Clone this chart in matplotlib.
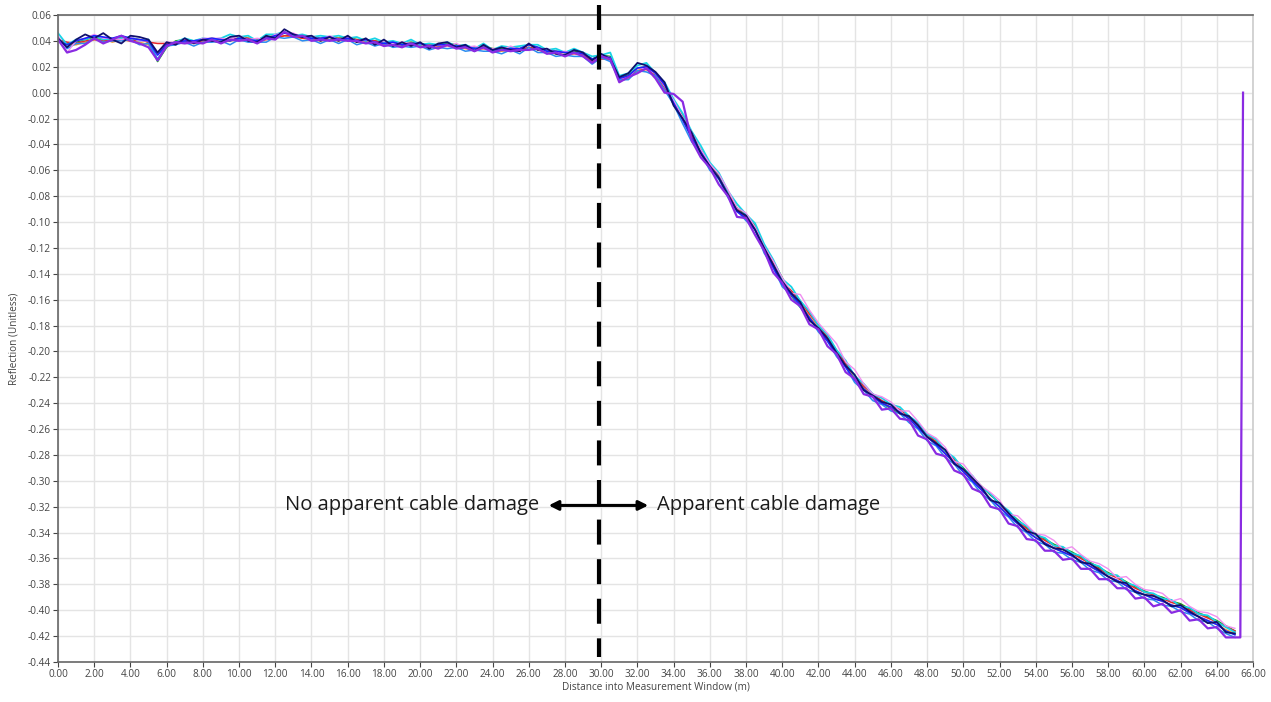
import numpy as np
import matplotlib
matplotlib.use('Agg')
import matplotlib.pyplot as plt
import matplotlib.ticker as tck

# reflection traces, read every 0.5 m from 0 to 65 m, in thousandths
green = [41,38,39,41,43,40,41,43,42,41,
         39,24,35,40,41,40,41,42,41,40,
         43,42,41,43,44,46,45,44,43,42,
         43,42,43,41,41,40,39,39,38,39,
         38,37,37,38,37,36,35,36,34,34,
         35,34,37,35,33,32,31,32,31,26,
         29,28,11,14,19,20,15,6,-6,-18,
         -32,-44,-55,-64,-77,-89,-94,-103,-118,-130,
         -143,-157,-166,-175,-183,-191,-201,-211,-221,-229,
         -235,-240,-244,-248,-251,-257,-264,-270,-277,-283,
         -290,-297,-304,-311,-317,-324,-330,-336,-341,-345,
         -349,-352,-355,-359,-363,-367,-371,-374,-378,-382,
         -385,-388,-390,-393,-395,-399,-402,-405,-408,-412,
         -416]
orange = [40,37,37,39,41,42,39,41,40,39,
          37,30,37,38,39,38,39,40,39,40,
          41,40,39,41,42,44,43,42,41,40,
          41,40,41,39,39,38,37,37,36,37,
          36,35,35,36,35,34,33,34,32,32,
          33,32,35,33,31,30,29,30,29,24,
          27,26,9,11,17,18,13,4,-9,-21,
          -35,-46,-57,-66,-79,-91,-97,-105,-121,-134,
          -147,-155,-163,-173,-182,-191,-201,-211,-221,-229,
          -235,-240,-243,-247,-252,-259,-266,-272,-279,-286,
          -293,-300,-307,-314,-320,-327,-333,-339,-344,-348,
          -352,-355,-358,-362,-366,-370,-374,-377,-381,-385,
          -388,-391,-393,-396,-398,-402,-405,-408,-411,-415,
          -418]
red = [41,39,38,40,41,40,40,41,40,41,
       39,38,38,38,39,40,40,40,41,41,
       42,42,41,41,42,44,44,42,42,41,
       41,42,41,41,40,40,38,39,37,38,
       37,37,36,36,36,35,35,34,34,33,
       34,33,35,34,33,31,31,30,30,24,
       26,26,11,12,17,18,13,4,-8,-19,
       -33,-45,-56,-66,-78,-90,-96,-104,-119,-132,
       -146,-153,-161,-171,-180,-189,-199,-209,-219,-227,
       -233,-238,-241,-245,-250,-257,-264,-270,-277,-284,
       -291,-298,-305,-310,-318,-325,-331,-337,-342,-346,
       -350,-353,-356,-360,-364,-368,-372,-375,-379,-383,
       -386,-388,-391,-394,-396,-400,-403,-406,-409,-413,
       -416]
cyan = [46,37,41,41,44,41,42,42,43,40,
        41,25,36,39,42,40,42,41,42,45,
        43,44,40,45,45,47,44,45,43,44,
        43,44,42,43,40,42,39,40,38,41,
        37,38,37,39,36,37,34,38,33,36,
        35,36,37,37,33,34,31,34,31,28,
        29,31,13,15,21,23,15,8,-5,-16,
        -30,-41,-54,-62,-76,-86,-94,-101,-117,-129,
        -144,-150,-161,-169,-180,-187,-199,-207,-219,-225,
        -233,-236,-241,-243,-250,-255,-264,-268,-277,-282,
        -291,-296,-305,-310,-318,-323,-331,-335,-342,-344,
        -350,-351,-356,-358,-364,-366,-372,-373,-379,-381,
        -386,-387,-391,-392,-397,-398,-403,-404,-409,-413,
        -417]
light_blue = [43,34,38,38,42,39,40,40,41,37,
              38,26,36,37,39,36,39,39,40,37,
              41,39,39,39,43,42,43,40,41,38,
              41,38,41,37,39,36,38,35,36,35,
              36,33,35,34,35,32,33,32,32,30,
              33,30,35,31,31,28,29,28,28,22,
              27,24,10,10,17,16,13,2,-9,-24,
              -38,-47,-60,-67,-81,-91,-99,-106,-124,-135,
              -150,-156,-166,-174,-185,-192,-204,-212,-224,-230,
              -238,-241,-246,-248,-255,-260,-269,-273,-282,-287,
              -296,-301,-310,-315,-323,-328,-336,-340,-347,-349,
              -355,-356,-361,-363,-369,-371,-377,-378,-384,-386,
              -391,-392,-396,-397,-401,-403,-408,-409,-414,-418,
              -421]
pink = [44,31,40,42,45,42,42,41,43,40,
        40,31,39,39,41,39,42,42,42,41,
        44,41,42,41,45,46,46,43,44,41,
        44,41,43,40,41,38,40,37,39,38,
        38,35,37,36,38,35,36,34,34,33,
        36,33,37,34,34,31,32,30,31,25,
        29,27,11,12,19,19,15,5,-6,-19,
        -31,-44,-55,-63,-75,-89,-93,-104,-119,-130,
        -143,-155,-156,-168,-178,-186,-194,-208,-214,-225,
        -233,-235,-239,-246,-246,-254,-263,-267,-274,-285,
        -287,-296,-304,-309,-315,-326,-327,-334,-341,-342,
        -346,-353,-351,-357,-362,-364,-368,-375,-374,-380,
        -384,-385,-387,-393,-391,-397,-401,-402,-405,-412,
        -414]
blue = [40,37,40,42,44,43,42,44,42,41,
        40,29,37,39,40,40,41,42,41,40,
        42,41,40,42,44,46,45,43,42,42,
        43,41,42,40,41,39,38,39,37,38,
        38,36,37,37,36,36,34,35,33,33,
        34,34,37,35,32,32,31,31,30,26,
        28,27,11,13,19,20,15,6,-8,-21,
        -35,-46,-57,-66,-79,-92,-97,-106,-121,-135,
        -148,-156,-164,-174,-183,-192,-202,-212,-222,-229,
        -235,-240,-243,-247,-252,-259,-266,-272,-279,-286,
        -293,-300,-307,-314,-320,-327,-333,-339,-344,-348,
        -352,-355,-358,-362,-366,-370,-374,-377,-381,-385,
        -388,-391,-393,-396,-398,-402,-405,-408,-411,-416,
        -419]
navy = [42,35,41,45,42,46,41,38,44,43,
        41,31,39,37,42,38,41,40,39,43,
        44,40,39,44,42,49,45,43,44,40,
        43,40,44,39,42,37,41,36,39,36,
        39,34,38,39,35,37,32,37,33,35,
        33,32,38,33,34,30,29,33,31,25,
        30,26,12,15,23,21,16,8,-10,-20,
        -31,-47,-57,-66,-79,-91,-95,-106,-120,-133,
        -146,-155,-162,-176,-182,-190,-201,-211,-218,-230,
        -234,-239,-241,-248,-250,-257,-266,-271,-276,-287,
        -291,-298,-305,-315,-317,-325,-332,-339,-341,-349,
        -352,-353,-357,-363,-364,-369,-374,-378,-379,-386,
        -388,-389,-392,-397,-396,-401,-405,-410,-409,-417,
        -418]
purple = [41,31,33,37,42,38,41,44,40,38,
          35,25,36,39,38,39,38,41,38,41,
          40,41,38,42,41,47,43,44,40,41,
          40,41,40,40,38,39,36,37,35,38,
          35,36,34,37,34,35,32,35,31,33,
          32,33,33,34,30,31,28,31,28,23,
          28,26,8,12,15,19,11,0,-1,-7,
          -37,-50,-58,-71,-80,-96,-97,-110,-122,-139,
          -147,-160,-165,-179,-183,-196,-202,-216,-221,-233,
          -235,-245,-244,-252,-253,-265,-268,-279,-281,-292,
          -295,-306,-309,-320,-322,-333,-335,-345,-346,-354,
          -354,-361,-360,-368,-368,-376,-376,-383,-383,-391,
          -390,-397,-395,-402,-400,-408,-407,-414,-413,-421,
          -421]
# end of the purple trace: jump back up at the cable end
spike_x = [65.3, 65.45]
spike_y = [-421, 0]

dist = np.arange(0, 65.01, 0.5)
damage_at = 29.9

traces = [(green, '#1a9e1a', 1.1), (orange, '#f0a030', 1.1), (red, '#e8262a', 1.1),
          (cyan, '#19d3e6', 1.3), (light_blue, '#2a8cf0', 1.1), (pink, '#f08ef0', 1.0),
          (blue, '#1f1fff', 1.2), (navy, '#10106e', 1.3)]

fig = plt.figure(figsize=(12.71, 7.02), dpi=100)
ax = fig.add_axes([58/1271, 1-662/702, (1253-58)/1271, (662-15)/702])

for vals, col, lw in traces:
    ax.plot(dist[:len(vals)], np.array(vals)/1000, color=col, lw=lw)

px = list(dist[:len(purple)]) + spike_x
py = np.array(purple + spike_y)/1000
ax.plot(px, py, color='#8a2be2', lw=1.6)

ax.set_xlim(0, 66)
ax.set_ylim(-0.44, 0.06)
ax.xaxis.set_major_locator(tck.MultipleLocator(2))
ax.yaxis.set_major_locator(tck.MultipleLocator(0.02))
ax.xaxis.set_major_formatter(tck.FormatStrFormatter('%.2f'))
ax.yaxis.set_major_formatter(tck.FormatStrFormatter('%.2f'))
ax.grid(True, color='#e4e4e4', lw=1.0)
ax.set_axisbelow(True)

tickfont = 'Open Sans'
for lab in ax.get_xticklabels() + ax.get_yticklabels():
    lab.set_family(tickfont)
ax.tick_params(labelsize=7.2, colors='#444444', length=3.5, width=0.8, pad=1.5)
for s in ['left', 'bottom', 'top']:
    ax.spines[s].set_color('#666666')
    ax.spines[s].set_linewidth(1.2)
ax.spines['right'].set_color('#cccccc')
ax.spines['right'].set_linewidth(1.2)

ax.set_xlabel('Distance into Measurement Window (m)', fontsize=7.2, family=tickfont,
              color='#444444', labelpad=1)
ax.set_ylabel('Reflection (Unitless)', fontsize=7.2, family=tickfont,
              color='#444444', labelpad=6)

# boundary between damaged / undamaged parts of the cable
ax.plot([damage_at, damage_at], [0.068, -0.436], color='black', lw=3,
        dashes=(6, 3.5), clip_on=False, zorder=5)

ax.annotate('', xy=(27.1, -0.319), xytext=(32.6, -0.319),
            arrowprops=dict(arrowstyle='<|-|>', color='black', lw=2.2,
                            mutation_scale=14, shrinkA=0, shrinkB=0), zorder=6)
ax.text(26.6, -0.319, 'No apparent cable damage', ha='right', va='center',
        fontsize=14.5, family=tickfont, color='#1a1a1a')
ax.text(33.1, -0.319, 'Apparent cable damage', ha='left', va='center',
        fontsize=14.5, family=tickfont, color='#1a1a1a')

fig.savefig('out.png', dpi=100, facecolor='white')
